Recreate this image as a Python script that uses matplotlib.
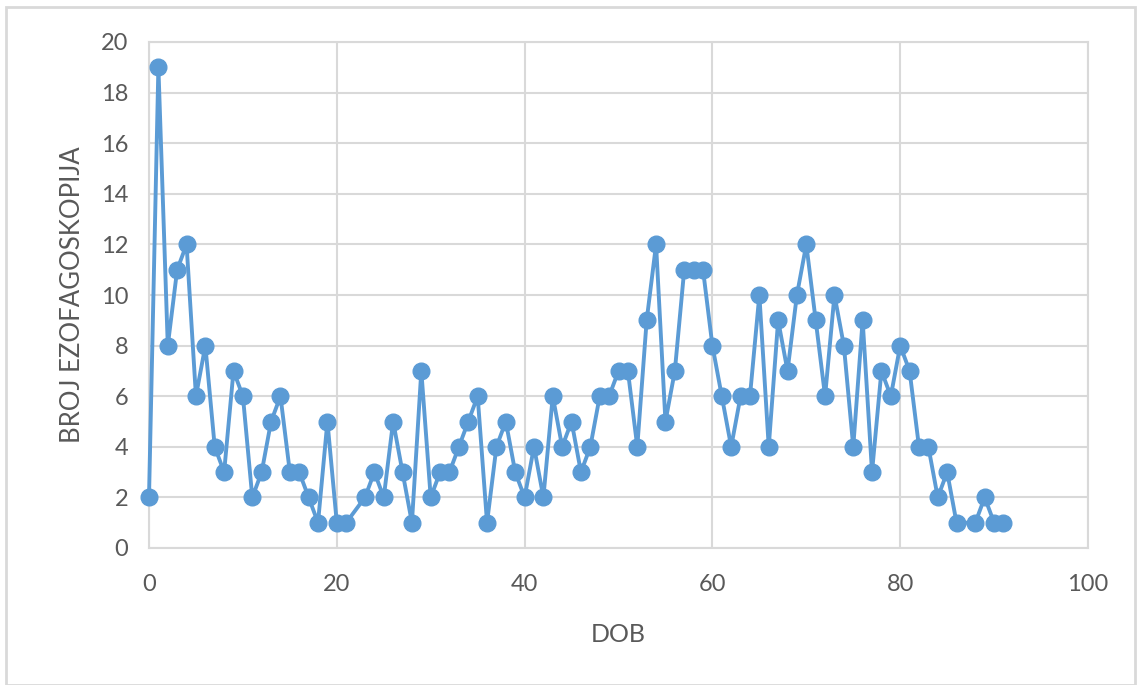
import matplotlib.pyplot as plt
from matplotlib.patches import Rectangle

# dob (godine) i broj ezofagoskopija
dob = list(range(0, 22)) + list(range(23, 87)) + [88, 89, 90, 91]
broj = [2, 19, 8, 11, 12, 6, 8, 4, 3, 7, 6, 2, 3, 5, 6, 3, 3, 2, 1, 5, 1, 1,
        2, 3, 2, 5, 3, 1, 7, 2, 3, 3, 4, 5, 6, 1, 4, 5, 3, 2, 4, 2, 6, 4, 5, 3,
        4, 6, 6, 7, 7, 4, 9, 12, 5, 7, 11, 11, 11, 8, 6, 4, 6, 6, 10, 4, 9, 7,
        10, 12, 9, 6, 10, 8, 4, 9, 3, 7, 6, 8, 7, 4, 4, 2, 3, 1,
        1, 2, 1, 1]

x_ticks = [0, 20, 40, 60, 80, 100]
y_ticks = [0, 2, 4, 6, 8, 10, 12, 14, 16, 18, 20]

plt.rcParams['font.family'] = ['Lato', 'DejaVu Sans']

W, H = 1138, 685
fig = plt.figure(figsize=(W / 100, H / 100), dpi=100)
ax = fig.add_axes([149 / W, 1 - 548 / H, (1088 - 149) / W, (548 - 42) / H])

# okvir grafikona
fig.patches.append(Rectangle((6 / W, 0), (1135 - 6) / W, 1 - 7 / H,
                             transform=fig.transFigure, fill=False,
                             edgecolor='#D9D9D9', linewidth=2))

ax.plot(dob, broj, color='#5B9BD5', linewidth=2.8, marker='o',
        markersize=12, zorder=3, clip_on=False)

ax.set_xlim(0, 100)
ax.set_ylim(0, 20)
ax.set_xticks(x_ticks)
ax.set_yticks(y_ticks)
ax.grid(True, color='#D9D9D9', linewidth=1.5)
for s in ax.spines.values():
    s.set_color('#D9D9D9')
    s.set_linewidth(1.5)
ax.tick_params(length=0, labelsize=17, colors='#595959')
ax.tick_params(axis='x', pad=19)
ax.tick_params(axis='y', pad=15)

ax.set_xlabel('DOB', fontsize=18, color='#595959', labelpad=20)
ax.set_ylabel('BROJ EZOFAGOSKOPIJA', fontsize=18.5, color='#595959', labelpad=11)

fig.savefig('out.png', dpi=100)
